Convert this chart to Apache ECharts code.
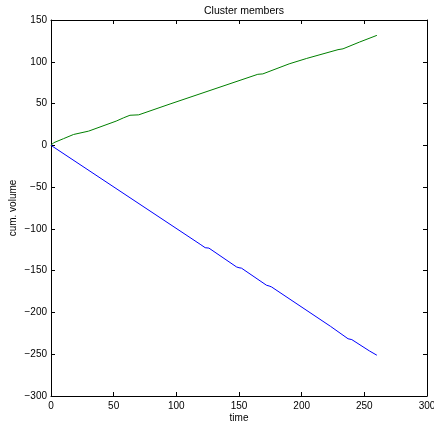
<!DOCTYPE html>
<html><head><meta charset="utf-8">
<script src="https://cdn.jsdelivr.net/npm/echarts@6/dist/echarts.min.js"></script>
<style>html,body{margin:0;padding:0;background:#fff}#c{width:434px;height:424px}</style>
</head><body><div id="c"></div>
<script>
const titleText = "Cluster members";
const xName = "time";
const yName = "cum. volume";
const xTicks = [0, 50, 100, 150, 200, 250, 300];
const yTicks = [-300, -250, -200, -150, -100, -50, 0, 50, 100, 150];
const greenT = [0, 2, 10, 18, 30, 52, 58, 63, 70, 95, 165, 169, 190, 204, 229, 233, 246, 260];
const greenV = [0, 3, 8, 13, 17, 29, 33, 36, 36.5, 49.5, 85, 85.5, 97.5, 104, 114.5, 115.5, 123.5, 131.6];
const blueT = [0, 119, 123, 126, 148, 150, 152, 172, 174, 176, 223, 237, 240, 254, 260];
const blueV = [0, -118.4, -122.5, -123, -145.5, -146.5, -147, -167.5, -168.3, -169.5, -216.6, -231.5, -232.5, -246, -251.2];

const green = greenT.map((t, i) => [t, greenV[i]]);
const blue = blueT.map((t, i) => [t, blueV[i]]);
const fmt = v => (v < 0 ? '\u2212' + Math.abs(v) : String(v));
const font = 'Liberation Sans, Arial, Helvetica, sans-serif';
const axisCommon = {
  axisLine: { show: true, onZero: false, lineStyle: { color: '#000', width: 1 } },
  axisTick: { show: true, inside: true, length: 4, lineStyle: { color: '#000' } },
  splitLine: { show: false }
};
const chart = echarts.init(document.getElementById('c'), null, { renderer: 'canvas' });
chart.setOption({
  animation: false,
  backgroundColor: '#fff',
  title: { text: titleText, left: 239, top: 1, textAlign: 'center',
    textStyle: { fontSize: 10.5, fontWeight: 'normal', color: '#000', fontFamily: font } },
  grid: { left: 51, right: 7, top: 20, bottom: 28, containLabel: false, outerBoundsMode: 'none' },
  xAxis: [
    Object.assign({ type: 'value', min: xTicks[0], max: xTicks[xTicks.length - 1], interval: 50, position: 'bottom',
      name: xName, nameLocation: 'middle', nameGap: 17, nameMoveOverlap: false,
      nameTextStyle: { fontSize: 10, color: '#000', fontFamily: font },
      axisLabel: { fontSize: 10, color: '#000', margin: 5, fontFamily: font, formatter: fmt } }, axisCommon),
    Object.assign({ type: 'value', min: xTicks[0], max: xTicks[xTicks.length - 1], interval: 50, position: 'top',
      axisLabel: { show: false } }, axisCommon)
  ],
  yAxis: [
    Object.assign({ type: 'value', min: yTicks[0], max: yTicks[yTicks.length - 1], interval: 50, position: 'left',
      name: yName, nameLocation: 'middle', nameGap: 33, nameRotate: 90, nameMoveOverlap: false,
      nameTextStyle: { fontSize: 10, color: '#000', fontFamily: font },
      axisLabel: { fontSize: 10, color: '#000', margin: 4, fontFamily: font, formatter: fmt } }, axisCommon),
    Object.assign({ type: 'value', min: yTicks[0], max: yTicks[yTicks.length - 1], interval: 50, position: 'right',
      axisLabel: { show: false } }, axisCommon)
  ],
  series: [
    { type: 'line', data: green, showSymbol: false, lineStyle: { color: '#008000', width: 1 }, itemStyle: { color: '#008000' } },
    { type: 'line', data: blue, showSymbol: false, lineStyle: { color: '#0000ff', width: 1 }, itemStyle: { color: '#0000ff' } }
  ]
});
</script></body></html>
